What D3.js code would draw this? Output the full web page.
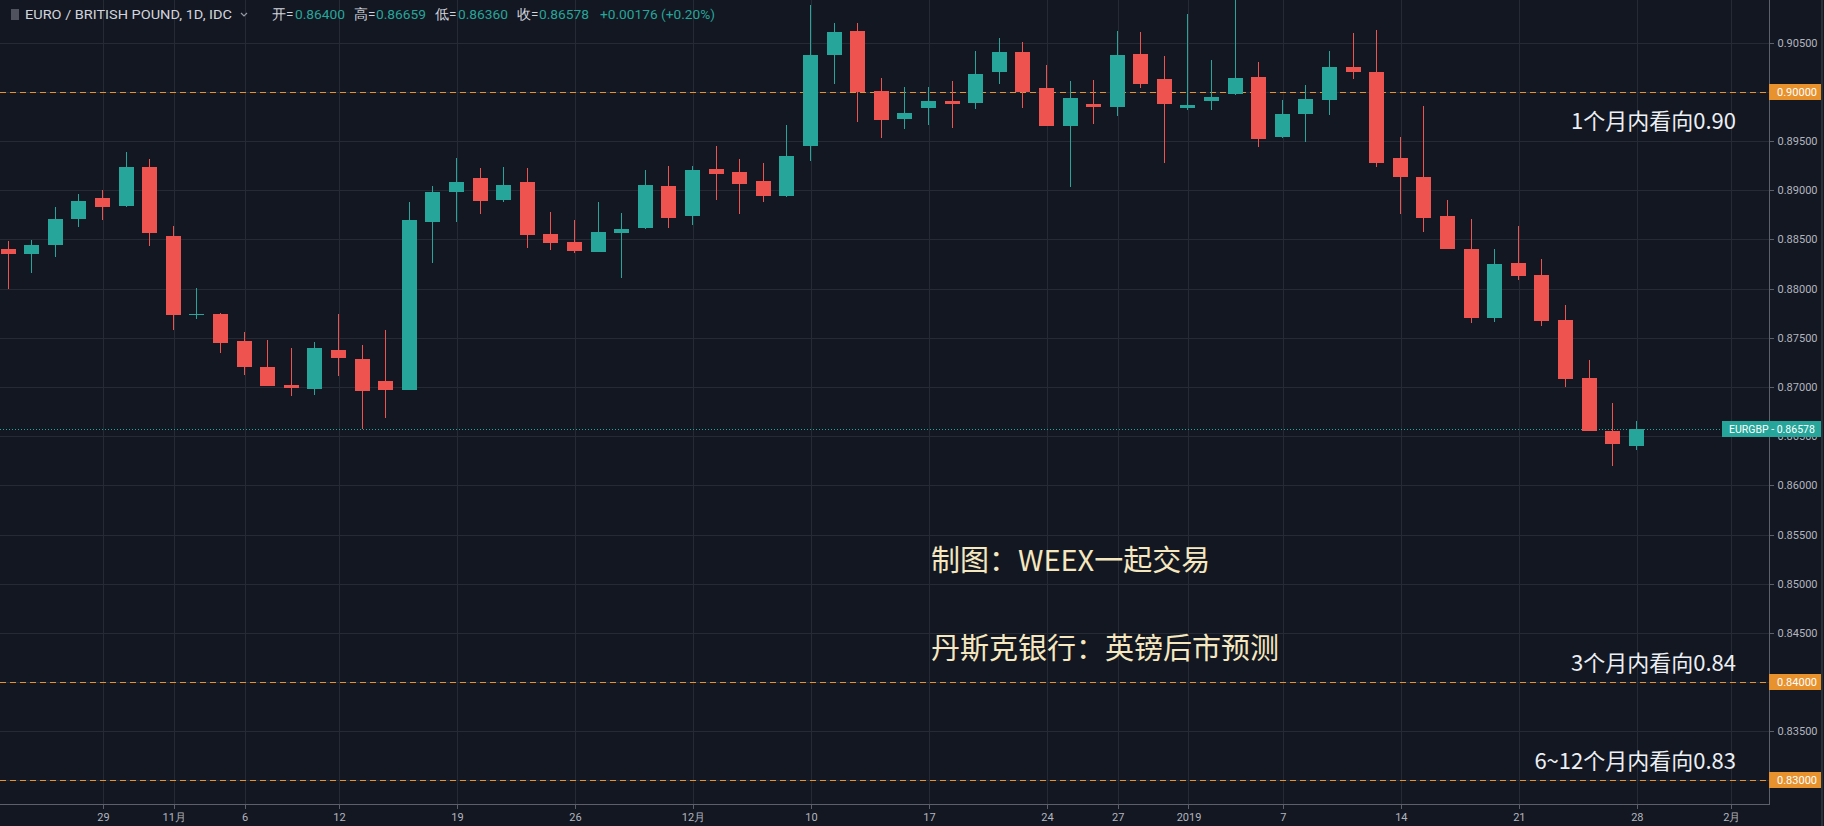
<!DOCTYPE html>
<html><head><meta charset="utf-8">
<script src="https://cdn.jsdelivr.net/npm/d3@7"></script>
<style>
html,body{margin:0;padding:0;background:#131722;overflow:hidden}
svg{display:block}
</style></head><body>
<svg id="c" width="1824" height="826"></svg>
<script>
// ---------------- data ----------------
const symbolTitle = "EURO / BRITISH POUND, 1D, IDC";
const firstDay = "2018-10-23";
const lastCalendarDay = "2019-02-01";

const opens = [0.88399,0.88348,0.88439,0.88706,0.88919,0.88841,0.89236,0.88534,0.87733,0.87747,
  0.87463,0.87200,0.87024,0.86980,0.87378,0.87287,0.87057,0.86973,0.88679,0.88980,
  0.89128,0.88905,0.89084,0.88554,0.88470,0.88375,0.88568,0.88615,0.89044,0.88743,
  0.89220,0.89182,0.89091,0.88943,0.89452,0.90371,0.90622,0.90010,0.89728,0.89837,
  0.89908,0.89884,0.90204,0.90401,0.90041,0.89653,0.89878,0.89847,0.90384,0.90136,
  0.89837,0.89908,0.89976,0.90156,0.89544,0.89772,0.89918,0.90248,0.90204,0.89326,
  0.89134,0.88736,0.88399,0.87701,0.88264,0.88142,0.87677,0.87087,0.86551,0.86400];
const highs = [0.88480,0.88490,0.88831,0.88966,0.89003,0.89392,0.89318,0.88635,0.88007,0.87750,
  0.87554,0.87476,0.87392,0.87453,0.87747,0.87426,0.87581,0.88885,0.89047,0.89331,
  0.89230,0.89240,0.89230,0.88784,0.88693,0.88885,0.88764,0.89203,0.89250,0.89250,
  0.89453,0.89321,0.89280,0.89660,0.90881,0.90697,0.90697,0.90143,0.90051,0.90051,
  0.90112,0.90412,0.90551,0.90503,0.90269,0.90112,0.90119,0.90616,0.90605,0.90361,
  0.90789,0.90320,0.90950,0.90303,0.89918,0.90065,0.90412,0.90595,0.90626,0.89538,
  0.89855,0.88901,0.88709,0.88399,0.88638,0.88301,0.87835,0.87272,0.86834,0.86659];
const lows = [0.87993,0.88162,0.88321,0.88625,0.88696,0.88830,0.88432,0.87581,0.87689,0.87345,
  0.87122,0.87010,0.86912,0.86922,0.87108,0.86574,0.86689,0.86970,0.88257,0.88676,
  0.88757,0.88882,0.88412,0.88392,0.88365,0.88370,0.88108,0.88610,0.88615,0.88642,
  0.88905,0.88757,0.88878,0.88932,0.89293,0.90078,0.89690,0.89527,0.89619,0.89660,
  0.89636,0.89827,0.90085,0.89833,0.89650,0.89037,0.89670,0.89752,0.90044,0.89276,
  0.89820,0.89820,0.89970,0.89442,0.89527,0.89486,0.89762,0.90129,0.89234,0.88763,
  0.88574,0.88400,0.87653,0.87664,0.88085,0.87620,0.87003,0.86548,0.86200,0.86360];
const closes = [0.88348,0.88446,0.88710,0.88892,0.88831,0.89236,0.88568,0.87730,0.87743,0.87446,
  0.87206,0.87014,0.86990,0.87395,0.87290,0.86963,0.86973,0.88693,0.88983,0.89084,
  0.88889,0.89054,0.88541,0.88466,0.88385,0.88574,0.88608,0.89054,0.88723,0.89209,
  0.89166,0.89061,0.88946,0.89348,0.90378,0.90612,0.90003,0.89711,0.89786,0.89908,
  0.89874,0.90184,0.90401,0.89997,0.89653,0.89935,0.89847,0.90374,0.90078,0.89874,
  0.89867,0.89946,0.90146,0.89517,0.89779,0.89929,0.90248,0.90204,0.89279,0.89137,
  0.88719,0.88399,0.87701,0.88254,0.88129,0.87674,0.87084,0.86548,0.86416,0.86578];

const tickDates = ["2018-10-29","2018-11-01","2018-11-06","2018-11-12","2018-11-19","2018-11-26",
  "2018-12-03","2018-12-10","2018-12-17","2018-12-24","2018-12-27","2019-01-01","2019-01-07",
  "2019-01-14","2019-01-21","2019-01-28","2019-02-01"];
const tickLabels = ["29","11月","6","12","19","26","12月","10","17","24","27","2019","7","14","21","28","2月"];
const priceTicks = [0.830,0.835,0.840,0.845,0.850,0.855,0.860,0.865,0.870,0.875,0.880,0.885,0.890,0.895,0.900,0.905];
const levelValues = [0.90, 0.84, 0.83];
const levelNotes = ["1个月内看向0.90","3个月内看向0.84","6~12个月内看向0.83"];
const lastPrice = 0.86578;
const lastPriceName = "EURGBP";
const headerLabels = ["开=","高=","低=","收="];
const headerValues = ["0.86400","0.86659","0.86360","0.86578"];
const changeText = "+0.00176 (+0.20%)";
const captionLines = ["制图：WEEX一起交易","丹斯克银行：英镑后市预测"];

// ---------------- layout ----------------
const W = 1824, H = 826;
const plotR = 1769, plotB = 804;
const BG = "#131722", GRID = "#262a35", AXIS = "#5d606b", TXT = "#b2b5be";
const UP = "#26a69a", DOWN = "#ef5350", ORANGE = "#e8922e";

const parse = d3.timeParse("%Y-%m-%d"), fmt = d3.timeFormat("%Y-%m-%d");
const days = d3.timeDay.range(parse(firstDay), d3.timeDay.offset(parse(lastCalendarDay), 1))
  .filter(d => d.getDay() !== 0 && d.getDay() !== 6);
const dayIndex = new Map(days.map((d, i) => [fmt(d), i]));

const x = d3.scaleLinear().domain([0, 74.6]).range([8.6, plotR]);
const y = d3.scaleLinear().domain([0.82761, 0.90934]).range([plotB, 0]);
const cr = v => Math.round(v) + 0.5;

const svg = d3.select("#c");
svg.append("rect").attr("width", W).attr("height", H).attr("fill", BG);
svg.append("defs").append("clipPath").attr("id", "plot")
  .append("rect").attr("x", 0).attr("y", 0).attr("width", plotR).attr("height", plotB);

// grid
const grid = svg.append("g").attr("shape-rendering", "crispEdges");
grid.selectAll("line.h").data(priceTicks).join("line")
  .attr("x1", 0).attr("x2", plotR).attr("y1", d => cr(y(d))).attr("y2", d => cr(y(d)))
  .attr("stroke", GRID).attr("stroke-width", 1);
const tickIdx = tickDates.map(d => dayIndex.get(d));
grid.selectAll("line.v").data(tickIdx).join("line")
  .attr("y1", 0).attr("y2", plotB).attr("x1", d => cr(x(d))).attr("x2", d => cr(x(d)))
  .attr("stroke", GRID).attr("stroke-width", 1);

const plot = svg.append("g").attr("clip-path", "url(#plot)");

// level lines
plot.selectAll("line.lvl").data(levelValues).join("line")
  .attr("x1", 0).attr("x2", plotR).attr("y1", d => cr(y(d))).attr("y2", d => cr(y(d)))
  .attr("stroke", ORANGE).attr("stroke-width", 1).attr("stroke-dasharray", "6,4")
  .attr("shape-rendering", "crispEdges");

// last price dotted line
plot.append("line").attr("x1", 0).attr("x2", 1722)
  .attr("y1", cr(y(lastPrice))).attr("y2", cr(y(lastPrice)))
  .attr("stroke", UP).attr("stroke-width", 1).attr("stroke-dasharray", "1,2")
  .attr("shape-rendering", "crispEdges");

// candles
const candles = opens.map((o, i) => ({i, o, h: highs[i], l: lows[i], c: closes[i]}));
const cg = plot.append("g").attr("shape-rendering", "crispEdges");
const cs = cg.selectAll("g").data(candles).join("g");
cs.append("line")
  .attr("x1", d => cr(x(d.i)) - 1).attr("x2", d => cr(x(d.i)) - 1)
  .attr("y1", d => Math.round(y(d.h))).attr("y2", d => Math.round(y(d.l)))
  .attr("stroke", d => d.c >= d.o ? UP : DOWN).attr("stroke-width", 1);
cs.append("rect")
  .attr("x", d => Math.round(x(d.i)) - 8)
  .attr("width", 15)
  .attr("y", d => Math.round(y(Math.max(d.o, d.c))))
  .attr("height", d => Math.max(1, Math.round(y(Math.min(d.o, d.c))) - Math.round(y(Math.max(d.o, d.c)))))
  .attr("fill", d => d.c >= d.o ? UP : DOWN);

// annotation notes
const noteDy = [37, -11, -11];
svg.selectAll("text.note").data(levelNotes).join("text")
  .attr("x", 1736).attr("y", (d, i) => y(levelValues[i]) + noteDy[i])
  .attr("text-anchor", "end").attr("fill", "#eceff4")
  .attr("font-family", "'Noto Sans CJK SC', 'Noto Sans', sans-serif").attr("font-size", 22)
  .text(d => d);

// captions
svg.selectAll("text.cap").data(captionLines).join("text")
  .attr("x", 931).attr("y", (d, i) => 571 + i * 88)
  .attr("fill", "#f5e7bf")
  .attr("font-family", "'Noto Sans CJK SC', sans-serif").attr("font-size", 29)
  .text(d => d);

// axes borders
svg.append("line").attr("x1", cr(plotR)).attr("x2", cr(plotR)).attr("y1", 0).attr("y2", cr(plotB))
  .attr("stroke", AXIS).attr("shape-rendering", "crispEdges");
svg.append("line").attr("x1", 0).attr("x2", cr(plotR)).attr("y1", cr(plotB)).attr("y2", cr(plotB))
  .attr("stroke", AXIS).attr("shape-rendering", "crispEdges");
svg.append("line").attr("x1", 1822).attr("x2", 1822).attr("y1", 0).attr("y2", H)
  .attr("stroke", "#2a2e39").attr("stroke-width", 2);

// right price axis
const yAxis = d3.axisRight(y).tickValues(priceTicks).tickFormat(d3.format(".5f"))
  .tickSize(4).tickPadding(4).tickSizeOuter(0);
const ya = svg.append("g").attr("transform", `translate(${cr(plotR)},0)`).call(yAxis);
ya.select(".domain").remove();
ya.selectAll(".tick line").attr("stroke", AXIS).attr("shape-rendering", "crispEdges");
ya.selectAll(".tick text").attr("fill", TXT).attr("font-family", "Roboto, sans-serif").attr("font-size", 11);

// bottom time axis
const xAxis = d3.axisBottom(x).tickValues(tickIdx).tickFormat((d, i) => tickLabels[i])
  .tickSize(4).tickPadding(5).tickSizeOuter(0);
const xa = svg.append("g").attr("transform", `translate(0,${cr(plotB)})`).call(xAxis);
xa.select(".domain").remove();
xa.selectAll(".tick line").attr("stroke", AXIS).attr("shape-rendering", "crispEdges");
xa.selectAll(".tick text").attr("fill", TXT).attr("font-family", "Roboto, sans-serif").attr("font-size", 11);

// level price labels
const lv = svg.selectAll("g.lv").data(levelValues).join("g")
  .attr("transform", d => `translate(${plotR},${Math.round(y(d))})`);
lv.append("rect").attr("x", 0).attr("y", -8).attr("width", 52).attr("height", 16).attr("fill", ORANGE);
lv.append("text").attr("x", 8).attr("y", 4).attr("fill", "#ffffff")
  .attr("font-family", "Roboto, sans-serif").attr("font-size", 11)
  .text(d => d3.format(".5f")(d));

// last price label
const lp = svg.append("g").attr("transform", `translate(1722,${Math.round(y(lastPrice))})`);
lp.append("rect").attr("x", 0).attr("y", -8).attr("width", 99).attr("height", 16).attr("fill", UP);
lp.append("text").attr("x", 7).attr("y", 4).attr("fill", "#ffffff")
  .attr("font-family", "Roboto, sans-serif").attr("font-size", 10.5)
  .text(lastPriceName + " - " + d3.format(".5f")(lastPrice));

// header
const hd = svg.append("g").attr("font-family", "Roboto, sans-serif").attr("font-size", 13.5);
hd.append("rect").attr("x", 11).attr("y", 9).attr("width", 8).attr("height", 11).attr("fill", "#50535e");
hd.append("text").attr("x", 25).attr("y", 19).attr("fill", "#d1d4dc")
  .attr("textLength", 207).attr("lengthAdjust", "spacingAndGlyphs").text(symbolTitle);
hd.append("path").attr("d", "M241,13 L244,16 L247,13").attr("fill", "none").attr("stroke", "#9598a1").attr("stroke-width", 1.2);
const lblX = [272, 354, 435, 517], valX = [295, 376, 458, 539];
headerLabels.forEach((t, i) => {
  hd.append("text").attr("x", lblX[i]).attr("y", 19).attr("fill", "#d1d4dc").text(t);
  hd.append("text").attr("x", valX[i]).attr("y", 19).attr("fill", UP)
    .attr("textLength", 50).attr("lengthAdjust", "spacingAndGlyphs").text(headerValues[i]);
});
hd.append("text").attr("x", 600).attr("y", 19).attr("fill", UP)
  .attr("textLength", 115).attr("lengthAdjust", "spacingAndGlyphs").text(changeText);
</script>
</body></html>
